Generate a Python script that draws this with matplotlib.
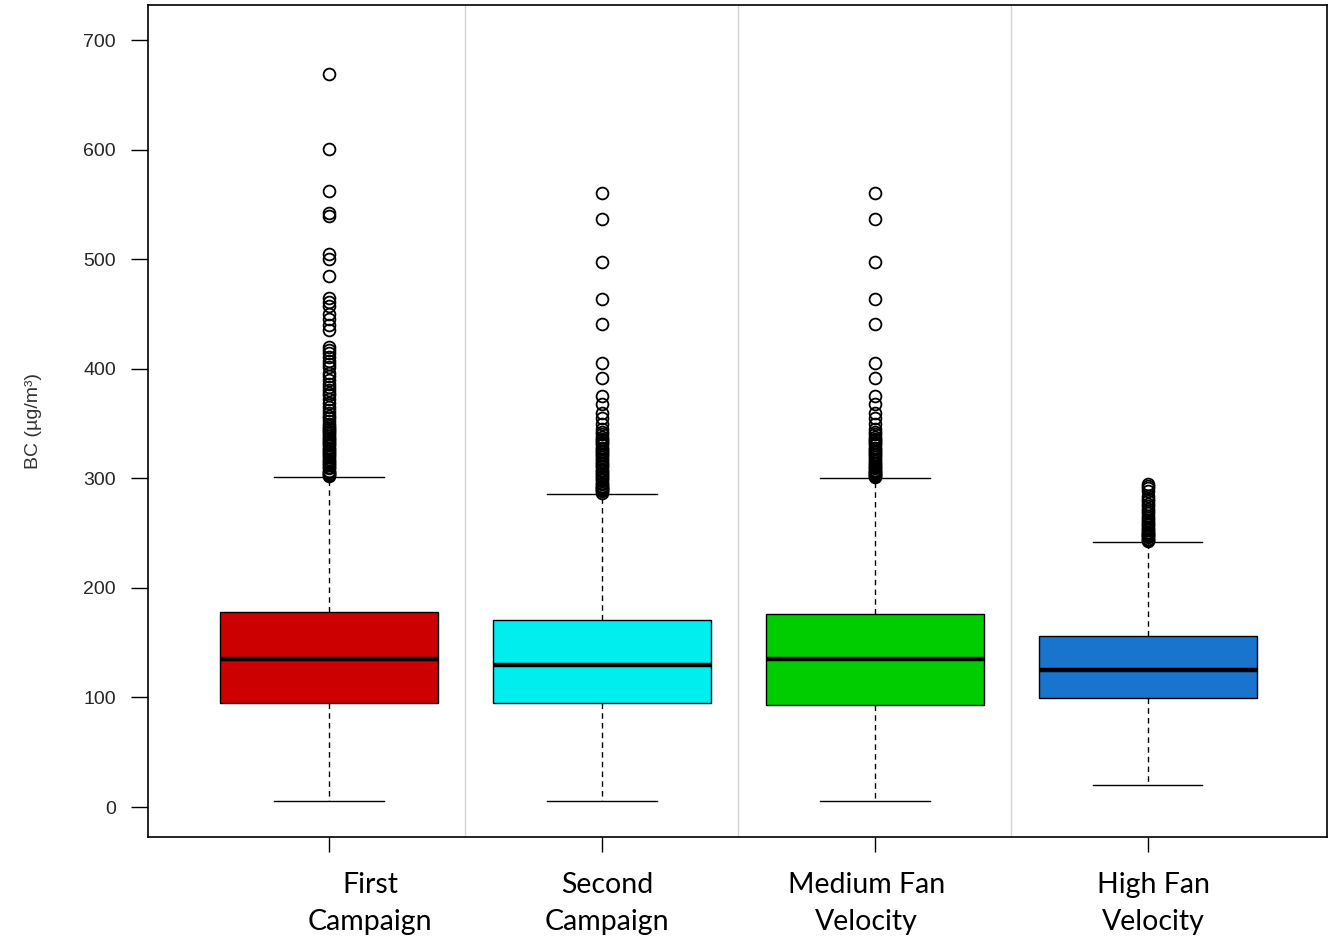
import matplotlib.pyplot as plt

# Boxplot statistics (BC, ug/m3)
groups = ["First\nCampaign", "Second\nCampaign", "Medium Fan\nVelocity", "High Fan\nVelocity"]
colors = ["#CC0000", "#00EEEE", "#00CD00", "#1874CD"]
q1 = [95, 95, 93, 99.5]
med = [135, 130, 135, 125]
q3 = [178, 171, 176, 156]
whislo = [5.5, 5.5, 5.5, 20]
whishi = [301, 286, 300, 242]

fliers_first = [669, 601, 562, 542, 539, 505, 500, 485, 465, 461, 457, 450,
                445, 440, 435, 420, 417, 414, 411, 407, 404, 402, 396, 393,
                390, 386, 383, 381, 378, 376, 372, 369, 365, 362, 360, 357,
                355, 352, 350, 348, 346, 345, 343, 342, 340, 339, 337, 336,
                334, 333, 331, 330, 328, 327, 325, 324, 322, 321, 319, 318,
                316, 315, 313, 312, 310, 309, 307, 306, 305, 304, 303, 302]
fliers_second = [560, 537, 497, 464, 441, 405, 392, 375, 368, 360, 355, 350,
                 345, 342, 340, 338, 336, 335, 333, 332, 330, 328, 327, 325,
                 324, 322, 321, 319, 318, 316, 314, 313, 311, 310, 308, 307,
                 305, 304, 302, 301, 299, 298, 296, 295, 293, 292, 291, 290,
                 289, 288, 287]
fliers_medium = [560, 537, 497, 464, 441, 405, 392, 375, 368, 360, 355, 350,
                 345, 342, 340, 338, 336, 335, 333, 332, 330, 328, 327, 325,
                 324, 322, 321, 319, 318, 316, 314, 313, 311, 310, 309, 308,
                 307, 306, 305, 304, 303, 302, 301]
fliers_high = [295, 293, 291, 288, 284, 281, 279, 277, 275, 272, 270, 268,
               266, 264, 262, 260, 258, 257, 256, 254, 253, 251, 250, 249,
               248, 247, 246, 245, 244, 243]
fliers = [fliers_first, fliers_second, fliers_medium, fliers_high]

stats = []
for i in range(len(groups)):
    stats.append({"q1": q1[i], "med": med[i], "q3": q3[i],
                  "whislo": whislo[i], "whishi": whishi[i],
                  "fliers": fliers[i]})

fig = plt.figure(figsize=(13.37, 9.39), dpi=100)
ax = fig.add_axes([0.1107, 0.1086, 0.8818, 0.8861])

positions = [1, 2, 3, 4]
bp = ax.bxp(stats, positions=positions, widths=0.8, patch_artist=True,
            boxprops=dict(edgecolor="black", linewidth=1.0),
            medianprops=dict(color="black", linewidth=3.2),
            whiskerprops=dict(color="black", linewidth=1.0, linestyle=(0, (4, 3))),
            capprops=dict(color="black", linewidth=1.0),
            flierprops=dict(marker="o", markerfacecolor="none",
                            markeredgecolor="black", markersize=8.5,
                            markeredgewidth=1.3))
for patch, c in zip(bp["boxes"], colors):
    patch.set_facecolor(c)

# separators between groups
for x in [1.5, 2.5, 3.5]:
    ax.axvline(x, color="#D3D3D3", linewidth=1.0, zorder=0)

ax.set_xlim(0.337, 4.656)
ax.set_ylim(-27.4, 732)
ax.set_yticks(range(0, 701, 100))
ax.set_xticks(positions)
ax.set_xticklabels([""] * 4)
ax.tick_params(axis="y", length=12, width=1, pad=11, labelsize=14,
               labelcolor="#262626")
for lab in ax.get_yticklabels():
    lab.set_family("Liberation Sans")
ax.tick_params(axis="x", length=11, width=1)
for s in ax.spines.values():
    s.set_linewidth(1.2)

label_x = [1.15, 2.02, 2.97, 4.02]
for x, g in zip(label_x, groups):
    ax.text(x, -0.08, g, transform=ax.get_xaxis_transform(), ha="center",
            va="center", fontsize=20.5, family="Lato", linespacing=1.55)

ax.set_ylabel("BC (µg/m³)", fontsize=14, color="#333333", labelpad=30,
              family="Liberation Sans")

fig.savefig("out.png", dpi=100)
